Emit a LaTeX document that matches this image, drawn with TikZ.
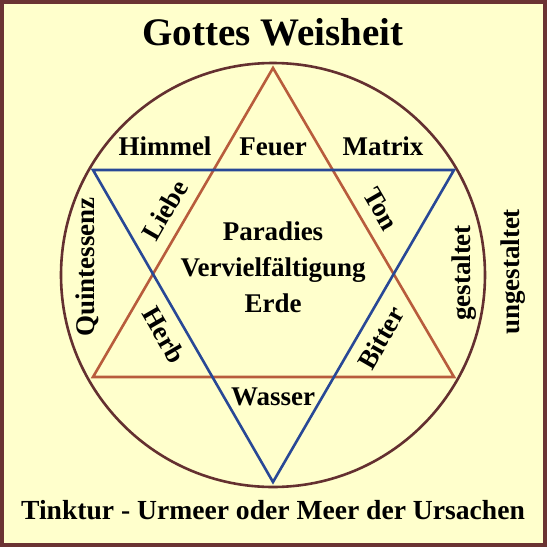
\documentclass[tikz,border=0pt]{standalone}
\usepackage{fontspec}
\setmainfont{Liberation Serif}
\definecolor{bgc}{RGB}{255,255,204}
\definecolor{framec}{RGB}{107,51,51}
\definecolor{circc}{RGB}{100,48,48}
\definecolor{firec}{RGB}{184,92,60}
\definecolor{waterc}{RGB}{40,72,150}
\newcommand{\gsz}[1]{\fontsize{#1}{#1}\selectfont\bfseries}
\begin{document}
\begin{tikzpicture}[x=1pt,y=-1pt,
  lbl/.style={inner sep=0pt, font=\gsz{27}},
  lblb/.style={inner sep=0pt, anchor=base, font=\gsz{27}},
  big/.style={inner sep=0pt, anchor=base, font=\gsz{39}},
  foot/.style={inner sep=0pt, anchor=base, font=\gsz{27.6}},
  fireline/.style={draw=firec, line width=2.6pt},
  waterline/.style={draw=waterc, line width=2.6pt}]
\fill[bgc] (0,0) rectangle (547,547);
\useasboundingbox (0,0) rectangle (547,547);
\draw[framec, line width=4pt] (2,2) rectangle (545,545);
% circle
\coordinate (c) at (273,275);
\draw[circc, line width=2.6pt] (c) circle[radius=212];
% triangles
\coordinate (f1) at (273,68);
\coordinate (f2) at (93,377);
\coordinate (f3) at (454,377);
\coordinate (w1) at (93,170);
\coordinate (w2) at (454,170);
\coordinate (w3) at (273,482);
\draw[fireline] (f1) -- (f2) -- (f3) -- cycle;
\draw[waterline] (w1) -- (w2) -- (w3) -- cycle;
% texts
\node[big] (title) at (273,45) {Gottes Weisheit};
\node[lblb] (himmel) at (165,155) {Himmel};
\node[lblb] (feuer) at (273,155) {Feuer};
\node[lblb] (matrix) at (383,155) {Matrix};
\node[lbl, rotate=60] (liebe) at (165,210) {Liebe};
\node[lbl, rotate=-60] (ton) at (381,209) {Ton};
\node[lbl, rotate=-60] (herb) at (164,335) {Herb};
\node[lbl, rotate=60] (bitter) at (381,338) {Bitter};
\node[lblb] (paradies) at (273,240) {Paradies};
\node[lblb] (verv) at (273,276) {Vervielfältigung};
\node[lblb] (erde) at (273,312) {Erde};
\node[lblb] (wasser) at (273,405) {Wasser};
\node[lbl, rotate=90] (quint) at (87,267) {Quintessenz};
\node[lbl, rotate=90] (gest) at (464,273) {gestaltet};
\node[lbl, rotate=90] (ungest) at (513,272) {ungestaltet};
\node[foot] (tinktur) at (273,519) {Tinktur - Urmeer oder Meer der Ursachen};
\end{tikzpicture}
\end{document}
